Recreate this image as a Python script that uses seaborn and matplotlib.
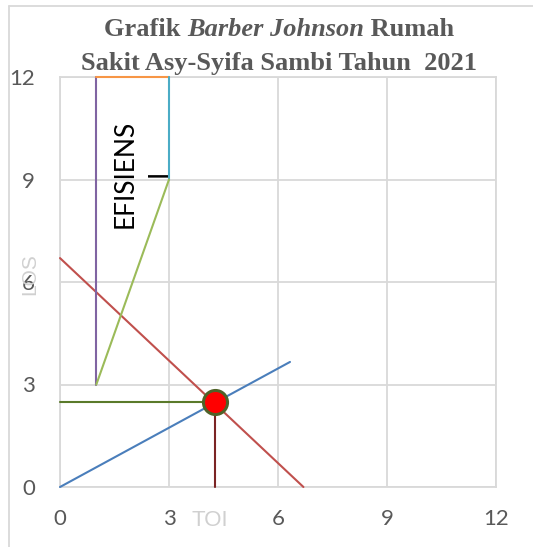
import matplotlib
matplotlib.use("Agg")
import matplotlib.pyplot as plt
from matplotlib.lines import Line2D
import seaborn as sns

# Data grafik Barber Johnson
ticks = [0, 3, 6, 9, 12]
bor_toi = [0, 6.33]
bor_los = [0, 3.66]
bto_toi = [0, 6.7]
bto_los = [6.7, 0]
hasil_toi = [4.27]
hasil_los = [2.48]
# garis bantu titik hasil
bantu_los_x = [0, 4.27]
bantu_los_y = [2.48, 2.48]
bantu_toi_x = [4.27, 4.27]
bantu_toi_y = [0, 2.48]
# daerah efisien
ef_kiri_x, ef_kiri_y = [1, 1], [3, 12]
ef_atas_x, ef_atas_y = [1, 3], [12, 12]
ef_kanan_x, ef_kanan_y = [3, 3], [9, 12]
ef_bawah_x, ef_bawah_y = [1, 3], [3, 9]

sns.set_style("white")
plt.rcParams['font.family'] = ['Lato', 'DejaVu Sans']

fig = plt.figure(figsize=(5.33, 5.47), dpi=100)
ax = fig.add_axes([60 / 533, 1 - 487 / 547, 436 / 533, 410 / 547])

grid_col = '#d9d9d9'
ax.grid(True, color=grid_col, lw=1.3)
for s in ax.spines.values():
    s.set_color(grid_col)
    s.set_linewidth(1.3)

garis = [
    (bor_toi, bor_los, '#4a7ebb'),
    (bto_toi, bto_los, '#c0504d'),
    (bantu_los_x, bantu_los_y, '#5a7a2a'),
    (bantu_toi_x, bantu_toi_y, '#7b2424'),
    (ef_kiri_x, ef_kiri_y, '#8064a2'),
    (ef_atas_x, ef_atas_y, '#f79646'),
    (ef_kanan_x, ef_kanan_y, '#4bacc6'),
    (ef_bawah_x, ef_bawah_y, '#9bbb59'),
]
for x, y, c in garis:
    sns.lineplot(x=x, y=y, ax=ax, color=c, lw=1.5, estimator=None, sort=False,
                 zorder=3, clip_on=False)

sns.scatterplot(x=hasil_toi, y=hasil_los, ax=ax, s=300, color='#ff0000',
                edgecolor='#4f6228', linewidth=2.2, zorder=5, clip_on=False)

ax.set_xlim(0, 12)
ax.set_ylim(0, 12)
ax.set_xticks(ticks)
ax.set_yticks(ticks)
ax.tick_params(length=0, labelsize=16, labelcolor='#595959')
ax.tick_params(axis='x', pad=16)
ax.tick_params(axis='y', pad=18)
ax.set_xlabel('')
ax.set_ylabel('')

ax.text(2.25, 9.17, 'EFISIENS\nI', rotation=90, ha='center', va='center',
        multialignment='center', fontsize=19, color='black', linespacing=1.45)

# label sumbu (pudar)
fig.text(210 / 533, 1 - 521 / 547, 'TOI', ha='center', va='center',
         family='Liberation Sans', fontsize=16, color='#d0d0d0')
fig.text(30 / 533, 1 - 274 / 547, 'LOS', ha='center', va='center',
         rotation=90, family='Liberation Sans', fontsize=15, color='#d0d0d0')

# judul dengan bagian miring
judul_kw = dict(family='Liberation Serif', weight='bold', fontsize=19,
                color='#595959', va='baseline')
renderer = fig.canvas.get_renderer()
bagian = [('Grafik ', 'normal'), ('Barber Johnson', 'italic'), (' Rumah', 'normal')]
teks = [fig.text(0, 1 - 36 / 547, t, style=st, **judul_kw) for t, st in bagian]
lebar = [t.get_window_extent(renderer).width for t in teks]
x0 = 279 - sum(lebar) / 2
for t, w in zip(teks, lebar):
    t.set_x(x0 / 533)
    x0 += w
fig.text(279 / 533, 1 - 70 / 547, 'Sakit Asy-Syifa Sambi Tahun  2021',
         ha='center', **judul_kw)

# bingkai
fig.add_artist(Line2D([9 / 533, 1.0], [1 - 6 / 547] * 2, color=grid_col, lw=1.3))
fig.add_artist(Line2D([9 / 533] * 2, [0, 1 - 6 / 547], color=grid_col, lw=1.3))

plt.savefig('out.png', dpi=100)
